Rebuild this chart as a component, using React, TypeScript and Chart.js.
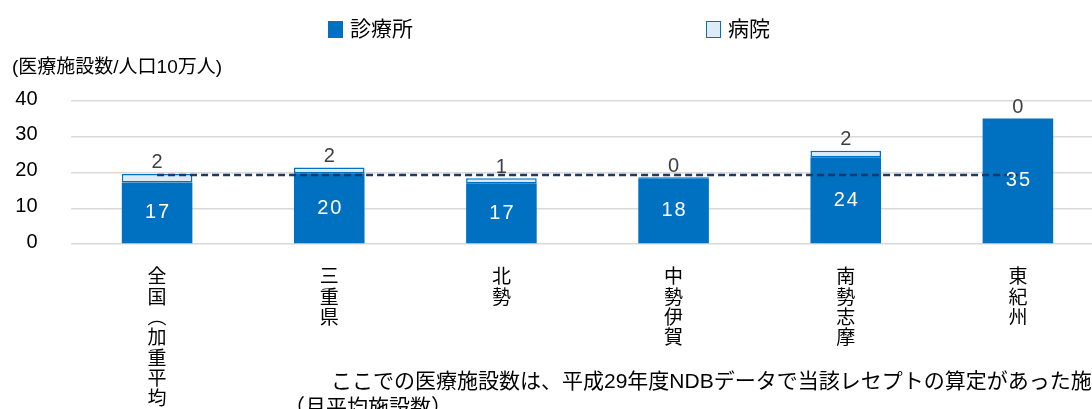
import React, { useEffect, useRef } from 'react';
import { Chart, registerables } from 'chart.js';

Chart.register(...registerables);

const FONT = "'Liberation Sans', 'Noto Sans CJK JP', sans-serif";
const CJK_FONT = "'Noto Sans CJK JP', sans-serif";

// ---- data ----
const categoryNames = ['全国︵加重平均︶', '三重県', '北勢', '中勢伊賀', '南勢志摩', '東紀州'];
const clinicValues = [17.2, 19.8, 17.0, 18.4, 24.3, 35.1];
const hospitalValues = [2.4, 1.6, 1.4, 0.3, 1.8, 0];
const nationalAverage = [19.3, 19.3, 19.3, 19.3, 19.3, 19.3];
const seriesNames = ['診療所', '病院', '全国平均'];
const yAxisTitle = '(医療施設数/人口10万人)';
const yMin = 0;
const yMax = 40;
const yStep = 10;
const footnoteLines = [
  'ここでの医療施設数は、平成29年度NDBデータで当該レセプトの算定があった施設数',
  '（月平均施設数）',
];

const CLINIC_COLOR = '#0070C0';
const HOSPITAL_FILL = '#DDEBF7';
const LINE_COLOR = '#1F3864';

const valueLabelPlugin = {
  id: 'valueLabels',
  afterDatasetsDraw(chart: any) {
    const ctx = chart.ctx;
    ctx.save();
    ctx.textAlign = 'center';
    ctx.textBaseline = 'middle';
    ctx.font = `20px ${FONT}`;
    const m0 = chart.getDatasetMeta(0);
    m0.data.forEach((el: any, i: number) => {
      ctx.fillStyle = '#FFFFFF';
      (ctx as any).letterSpacing = '2px';
      ctx.fillText(String(Math.round(clinicValues[i])), el.x + 1, (el.y + el.base) / 2);
    });
    (ctx as any).letterSpacing = '0px';
    const m1 = chart.getDatasetMeta(1);
    m1.data.forEach((el: any, i: number) => {
      ctx.fillStyle = '#404040';
      ctx.fillText(String(Math.round(hospitalValues[i])), el.x, Math.min(el.y, el.base) - 11);
    });
    ctx.restore();
  },
};

export default function App() {
  const canvasRef = useRef<HTMLCanvasElement | null>(null);

  useEffect(() => {
    if (!canvasRef.current) return;
    const chart = new Chart(canvasRef.current, {
      data: {
        labels: categoryNames.map((s) => Array.from(s)),
        datasets: [
          {
            type: 'bar',
            label: seriesNames[0],
            data: clinicValues,
            backgroundColor: CLINIC_COLOR,
            borderWidth: 0,
            stack: 's',
            order: 1,
            barPercentage: 0.41,
            categoryPercentage: 1,
          },
          {
            type: 'bar',
            label: seriesNames[1],
            data: hospitalValues,
            backgroundColor: HOSPITAL_FILL,
            borderColor: CLINIC_COLOR,
            borderWidth: 1.5,
            borderSkipped: false,
            stack: 's',
            order: 2,
            barPercentage: 0.41,
            categoryPercentage: 1,
          },
          {
            type: 'line',
            label: seriesNames[2],
            data: nationalAverage,
            borderColor: LINE_COLOR,
            borderWidth: 2.5,
            borderDash: [7, 4],
            pointRadius: 0,
            fill: false,
            stack: 'avg',
            order: 0,
          },
        ] as any,
      },
      options: {
        responsive: false,
        animation: false,
        layout: { padding: { top: 50, left: 12, right: 0, bottom: 0 } },
        plugins: {
          legend: { display: false },
          tooltip: { enabled: false },
          title: {
            display: true,
            text: yAxisTitle,
            align: 'start',
            color: '#000000',
            font: { family: FONT, size: 19, weight: 'normal' },
            padding: { top: 6.6, bottom: 21.6 },
          },
        },
        scales: {
          x: {
            stacked: true,
            grid: { display: false },
            border: { display: false },
            ticks: {
              color: '#000000',
              font: { family: CJK_FONT, size: 19, lineHeight: 1.07 },
              padding: 14,
              maxRotation: 0,
              autoSkip: false,
            },
            afterFit: (s: any) => {
              s.height = 196;
            },
          },
          y: {
            stacked: true,
            min: yMin,
            max: yMax,
            grid: { color: '#D9D9D9', lineWidth: 1.5, drawTicks: false },
            border: { display: false },
            ticks: {
              stepSize: yStep,
              color: '#000000',
              font: { family: FONT, size: 20 },
              padding: 33.5,
              labelOffset: -2,
            },
            afterFit: (s: any) => {
              s.width = 59;
            },
          },
        },
      } as any,
      plugins: [valueLabelPlugin],
    });
    return () => chart.destroy();
  }, []);

  const legendText: React.CSSProperties = {
    position: 'absolute',
    top: 17,
    fontSize: 21,
    lineHeight: '24px',
    color: '#000',
    whiteSpace: 'nowrap',
  };

  return (
    <div
      style={{
        position: 'absolute',
        left: 0,
        top: 0,
        width: 1092,
        height: 409,
        overflow: 'hidden',
        background: '#fff',
        fontFamily: FONT,
      }}
    >
      <canvas
        ref={canvasRef}
        width={1104}
        height={440}
        style={{ position: 'absolute', left: 0, top: 0 }}
      />
      <div
        style={{
          position: 'absolute',
          left: 328,
          top: 20.5,
          width: 15,
          height: 17,
          background: CLINIC_COLOR,
        }}
      />
      <div style={{ ...legendText, left: 350 }}>{seriesNames[0]}</div>
      <div
        style={{
          position: 'absolute',
          left: 706,
          top: 21,
          width: 15,
          height: 17,
          boxSizing: 'border-box',
          background: HOSPITAL_FILL,
          border: `1.5px solid ${CLINIC_COLOR}`,
        }}
      />
      <div style={{ ...legendText, left: 728 }}>{seriesNames[1]}</div>
      <div
        style={{
          position: 'absolute',
          left: 331,
          top: 368,
          fontSize: 21,
          lineHeight: '26px',
          color: '#000',
          whiteSpace: 'nowrap',
        }}
      >
        {footnoteLines[0]}
      </div>
      <div
        style={{
          position: 'absolute',
          left: 284,
          top: 394,
          fontSize: 21,
          lineHeight: '26px',
          color: '#000',
          whiteSpace: 'nowrap',
        }}
      >
        {footnoteLines[1]}
      </div>
    </div>
  );
}
